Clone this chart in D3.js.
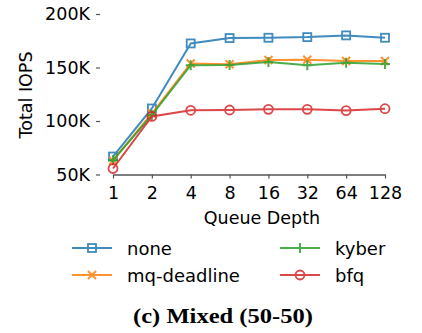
<!DOCTYPE html>
<html>
<head>
<meta charset="utf-8">
<script src="https://cdn.jsdelivr.net/npm/d3@7"></script>
<style>
  body { margin: 0; background: #fff; }
  svg { display: block; }
  text { font-family: "DejaVu Sans", sans-serif; fill: #000; }
</style>
</head>
<body>
<div id="chart"></div>
<script>
// Chart data
const queueDepths = ["1", "2", "4", "8", "16", "32", "64", "128"];
const noneValues = [66800, 111700, 172500, 177500, 177800, 178400, 180000, 177800];
const mqDeadlineValues = [63000, 107000, 153800, 153000, 157000, 157200, 156000, 156000];
const kyberValues = [63400, 105500, 152200, 152300, 155200, 152200, 154500, 153200];
const bfqValues = [55600, 104300, 110000, 110300, 110900, 110900, 109700, 111500];
const yTicks = [50000, 100000, 150000, 200000];

const series = [
  { name: "none", values: noneValues, color: "#1f77b4", marker: "square" },
  { name: "mq-deadline", values: mqDeadlineValues, color: "#ff7f0e", marker: "x" },
  { name: "kyber", values: kyberValues, color: "#2ca02c", marker: "plus" },
  { name: "bfq", values: bfqValues, color: "#d62728", marker: "circle" }
];

const width = 422;
const height = 333;

const svg = d3.select("#chart")
  .append("svg")
  .attr("width", width)
  .attr("height", height);

// scales
const x = d3.scalePoint().domain(queueDepths).range([113, 385]);
const y = d3.scaleLinear().domain([50000, 200000]).range([174.5, 14]);

const axisColor = "#555";

// y axis (no spine, just ticks)
const yAxis = svg.append("g")
  .attr("transform", "translate(100,0)")
  .call(d3.axisLeft(y).tickValues(yTicks).tickSize(4).tickPadding(6)
    .tickFormat(d => d / 1000 + "K"));
yAxis.select(".domain").remove();
yAxis.selectAll(".tick line").attr("stroke", axisColor).attr("stroke-width", 1.2);
yAxis.selectAll(".tick text")
  .style("font-family", "DejaVu Sans")
  .style("font-size", "17.5px")
  .attr("fill", "#000");

// x axis, spine only across data range
const xAxis = svg.append("g")
  .attr("transform", `translate(0,${y(50000)})`)
  .call(d3.axisBottom(x).tickSizeInner(4).tickSizeOuter(0).tickPadding(8));
xAxis.select(".domain").attr("stroke", axisColor).attr("stroke-width", 1.6);
xAxis.selectAll(".tick line").attr("stroke", axisColor).attr("stroke-width", 1.2);
xAxis.selectAll(".tick text")
  .style("font-family", "DejaVu Sans")
  .style("font-size", "17.5px")
  .attr("fill", "#000");

// axis titles
svg.append("text")
  .attr("transform", "translate(27,95) rotate(-90)")
  .attr("text-anchor", "middle")
  .attr("dominant-baseline", "middle")
  .style("font-size", "17.5px")
  .text("Total IOPS");

svg.append("text")
  .attr("x", 262)
  .attr("y", 224)
  .attr("text-anchor", "middle")
  .style("font-size", "17.5px")
  .text("Queue Depth");

// marker drawing helper
function drawMarker(g, type, cx, cy, color) {
  const s = 4;
  if (type === "square") {
    g.append("rect")
      .attr("x", cx - s).attr("y", cy - s)
      .attr("width", 2 * s).attr("height", 2 * s)
      .attr("fill", "none").attr("stroke", color).attr("stroke-width", 1.8);
  } else if (type === "circle") {
    g.append("circle")
      .attr("cx", cx).attr("cy", cy).attr("r", s + 0.5)
      .attr("fill", "none").attr("stroke", color).attr("stroke-width", 1.8);
  } else if (type === "x") {
    g.append("path")
      .attr("d", `M${cx - s},${cy - s}L${cx + s},${cy + s}M${cx - s},${cy + s}L${cx + s},${cy - s}`)
      .attr("stroke", color).attr("stroke-width", 2);
  } else if (type === "plus") {
    g.append("path")
      .attr("d", `M${cx - s - 1},${cy}L${cx + s + 1},${cy}M${cx},${cy - s - 1}L${cx},${cy + s + 1}`)
      .attr("stroke", color).attr("stroke-width", 2);
  }
}

const line = d3.line()
  .x((d, i) => x(queueDepths[i]))
  .y(d => y(d));

const plot = svg.append("g");
series.forEach(s => {
  const g = plot.append("g").attr("opacity", 0.85);
  g.append("path")
    .attr("d", line(s.values))
    .attr("fill", "none")
    .attr("stroke", s.color)
    .attr("stroke-width", 2);
  s.values.forEach((v, i) => drawMarker(g, s.marker, x(queueDepths[i]), y(v), s.color));
});

// legend, two columns, column-major
const legendPos = [
  { x: 72, y: 248 },
  { x: 72, y: 275 },
  { x: 280, y: 248 },
  { x: 280, y: 275 }
];
series.forEach((s, i) => {
  const p = legendPos[i];
  const g = svg.append("g").attr("opacity", 0.85);
  g.append("line")
    .attr("x1", p.x).attr("x2", p.x + 40)
    .attr("y1", p.y).attr("y2", p.y)
    .attr("stroke", s.color).attr("stroke-width", 2);
  drawMarker(g, s.marker, p.x + 20, p.y, s.color);
  svg.append("text")
    .attr("x", p.x + 55)
    .attr("y", p.y)
    .attr("dominant-baseline", "central")
    .style("font-size", "18px")
    .text(s.name);
});

// caption
svg.append("text")
  .attr("x", 223)
  .attr("y", 323)
  .attr("text-anchor", "middle")
  .attr("textLength", 180)
  .attr("lengthAdjust", "spacingAndGlyphs")
  .style("font-family", "'Liberation Serif', serif")
  .style("font-weight", "bold")
  .style("font-size", "20px")
  .text("(c) Mixed (50-50)");
</script>
</body>
</html>
